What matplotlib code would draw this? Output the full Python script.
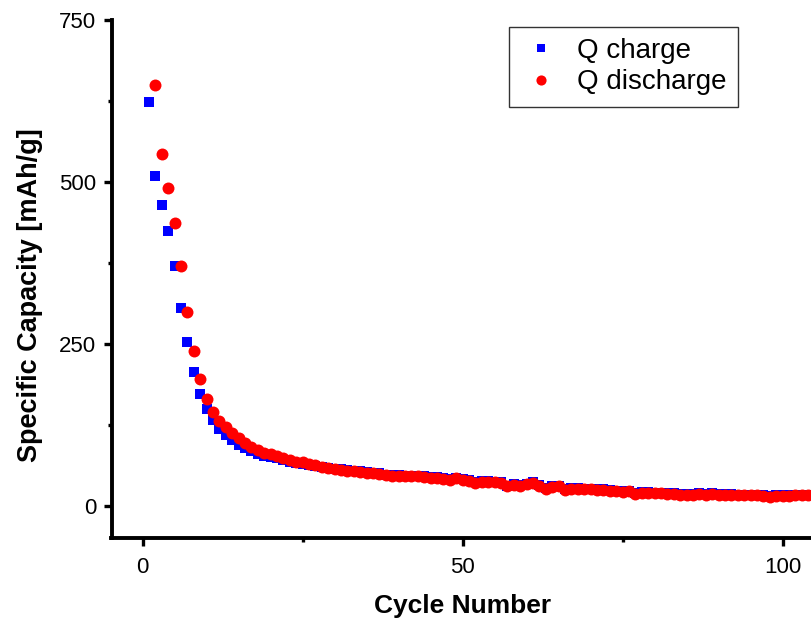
import matplotlib
matplotlib.use("Agg")
import matplotlib.pyplot as plt
from matplotlib.ticker import MultipleLocator

plt.rcParams['font.family'] = ['Liberation Sans', 'DejaVu Sans']

# Charge capacity, cycles 1..105
charge_cycles = list(range(1, 106))
q_charge = [623, 509, 464, 424, 370, 305, 252, 206, 172, 149,
            133, 118, 109, 101, 94, 89, 85, 80, 77, 75,
            73, 70, 68, 66, 65, 63, 61, 60, 58, 57,
            56, 55, 54, 53, 52, 51, 50, 48, 47, 47,
            46, 46, 46, 45, 44, 44, 42, 41, 43, 41,
            39, 36, 38, 38, 37, 36, 31, 33, 32, 34,
            36, 32, 27, 30, 31, 25, 27, 27, 26, 26,
            25, 25, 24, 23, 22, 23, 19, 21, 21, 20,
            20, 19, 19, 18, 18, 18, 19, 18, 19, 18,
            18, 18, 17, 17, 17, 17, 16, 15, 16, 16,
            16, 17, 17, 17, 16]

# Discharge capacity, cycles 2..105
discharge_cycles = list(range(2, 106))
q_discharge = [649, 543, 491, 437, 370, 299, 239, 195, 165,
               145, 130, 121, 112, 104, 96, 91, 86, 81, 79,
               76, 73, 70, 68, 67, 64, 62, 60, 58, 57,
               55, 54, 53, 52, 51, 50, 49, 47, 46, 46,
               45, 45, 45, 44, 43, 43, 41, 40, 42, 40,
               38, 35, 37, 37, 36, 35, 30, 32, 31, 33,
               35, 31, 26, 29, 30, 24, 26, 26, 25, 25,
               24, 24, 23, 22, 21, 22, 18, 20, 20, 19,
               19, 18, 18, 17, 17, 17, 18, 17, 18, 17,
               17, 17, 16, 16, 16, 16, 15, 14, 15, 15,
               15, 16, 16, 16, 15]

fig = plt.figure(figsize=(8.12, 6.23), dpi=100)
ax_left, ax_bottom = 111.5 / 812, 85 / 623
ax_w, ax_h = 735.0 / 812, 518.0 / 623
ax = fig.add_axes([ax_left, ax_bottom, ax_w, ax_h])

ax.plot(charge_cycles, q_charge, linestyle='none', marker='s',
        markersize=7.6, color='#0000ff', markeredgewidth=0, label='Q charge')
ax.plot(discharge_cycles, q_discharge, linestyle='none', marker='o',
        markersize=8.6, color='#ff0000', markeredgewidth=0, label='Q discharge')

ax.set_xlim(-4.85, 110)
ax.set_ylim(-50, 750)

ax.xaxis.set_major_locator(MultipleLocator(50))
ax.xaxis.set_minor_locator(MultipleLocator(25))
ax.yaxis.set_major_locator(MultipleLocator(250))
ax.yaxis.set_minor_locator(MultipleLocator(125))

for side in ('top', 'right'):
    ax.spines[side].set_visible(False)
for side in ('left', 'bottom'):
    ax.spines[side].set_linewidth(2.8)

ax.tick_params(which='major', direction='out', length=5.5, width=2.4,
               labelsize=16)
ax.tick_params(axis='y', which='major', pad=5.5)
ax.tick_params(axis='x', which='major', pad=8)
ax.tick_params(which='minor', direction='out', length=2.8, width=2.4)

ax.set_xlabel('Cycle Number', fontsize=19, fontweight='bold')
ax.set_ylabel('Specific Capacity [mAh/g]', fontsize=19.5, fontweight='bold')
# axis titles centred on the visible part of the frame
ax.xaxis.set_label_coords((463.0 - 111.5) / 735.0, -(606 - 538) / 518.0)
ax.xaxis.label.set_verticalalignment('center')
ax.yaxis.set_label_coords(-(111.5 - 30) / 735.0, (538 - 295) / 518.0)
ax.yaxis.label.set_verticalalignment('center')

leg = ax.legend(loc='upper left', bbox_to_anchor=(509 / 812, 1 - 27 / 623),
                bbox_transform=fig.transFigure,
                fontsize=20, frameon=True, fancybox=False, edgecolor='black',
                handletextpad=0.56, borderpad=0.4, labelspacing=0.19,
                markerscale=0.85, handlelength=1.49, borderaxespad=0)
leg.get_frame().set_linewidth(1.0)

fig.savefig('out.png', dpi=100)
